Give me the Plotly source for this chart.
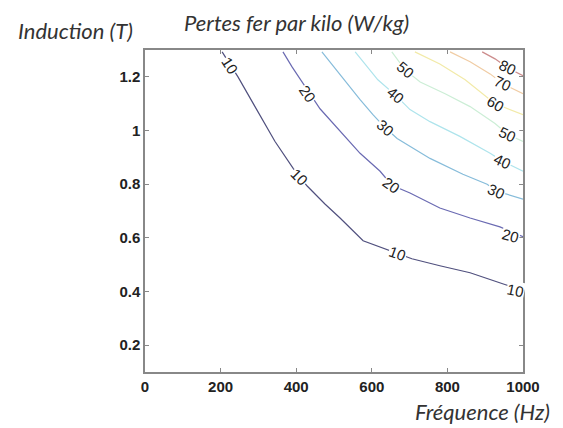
import plotly.graph_objects as go

# Contour lines: frequency (Hz) and induction (T)
f_10 = [204, 246, 291, 344, 392, 429, 476, 516, 577, 669, 706, 780, 860, 952, 1000]
b_10 = [1.293, 1.200, 1.089, 0.959, 0.859, 0.793, 0.726, 0.674, 0.589, 0.541, 0.522, 0.496, 0.470, 0.426, 0.404]
f_20 = [365, 389, 463, 516, 569, 622, 653, 701, 780, 860, 939, 1000]
b_20 = [1.293, 1.237, 1.081, 0.996, 0.915, 0.848, 0.796, 0.767, 0.711, 0.674, 0.641, 0.604]
f_30 = [468, 516, 569, 603, 635, 667, 754, 841, 905, 931, 1000]
b_30 = [1.293, 1.207, 1.115, 1.059, 1.011, 0.970, 0.896, 0.837, 0.800, 0.774, 0.744]
f_40 = [556, 616, 664, 701, 754, 833, 913, 947, 1000]
b_40 = [1.293, 1.189, 1.130, 1.078, 1.033, 0.978, 0.915, 0.885, 0.848]
f_50 = [653, 688, 728, 794, 860, 926, 960, 1000]
b_50 = [1.293, 1.226, 1.181, 1.137, 1.089, 1.026, 0.985, 0.959]
f_60 = [714, 780, 847, 892, 926, 1000]
b_60 = [1.293, 1.248, 1.189, 1.137, 1.100, 1.059]
f_70 = [807, 860, 913, 947, 1000]
b_70 = [1.293, 1.256, 1.211, 1.174, 1.137]
f_80 = [892, 926, 960, 1000]
b_80 = [1.293, 1.267, 1.233, 1.204]

levels = [10, 20, 30, 40, 50, 60, 70, 80]
line_f = [f_10, f_20, f_30, f_40, f_50, f_60, f_70, f_80]
line_b = [b_10, b_20, b_30, b_40, b_50, b_60, b_70, b_80]
line_colors = ["#50507e", "#6a6ab2", "#86bcda", "#aee4ec", "#cceed6", "#f2eaa8", "#f0cca4", "#cc8c8c"]

# Contour labels
label_text = ["10", "10", "10", "10", "20", "20", "20", "30", "30", "40", "40", "50", "50", "60", "70", "80"]
label_f = [225, 410, 669, 981, 429, 653, 966, 635, 931, 664, 947, 688, 960, 926, 947, 960]
label_b = [1.244, 0.826, 0.541, 0.404, 1.137, 0.796, 0.607, 1.011, 0.774, 1.130, 0.885, 1.226, 0.985, 1.100, 1.174, 1.233]
label_angle = [57, 45, 20, 12, 56, 36, 15, 40, 25, 40, 25, 40, 25, 30, 25, 25]

x_ticks = [0, 200, 400, 600, 800, 1000]
y_ticks = [0.2, 0.4, 0.6, 0.8, 1.0, 1.2]
y_tick_text = ["0.2", "0.4", "0.6", "0.8", "1", "1.2"]

fig = go.Figure()
for fx, by, col in zip(line_f, line_b, line_colors):
    fig.add_trace(go.Scatter(x=fx, y=by, mode="lines", line=dict(color=col, width=1.2),
                             hoverinfo="skip", showlegend=False))

for t, fx, by, a in zip(label_text, label_f, label_b, label_angle):
    fig.add_annotation(x=fx, y=by, text=t, textangle=a, showarrow=False,
                       font=dict(family="Liberation Sans, Arial", size=15, color="#222"),
                       bgcolor="white", borderpad=0)

title_font = dict(family="Lato, Open Sans", size=22, color="#333", style="italic")
fig.add_annotation(xref="paper", yref="paper", x=0.402, y=1.084, text="Pertes fer par kilo (W/kg)",
                   xanchor="center", yanchor="middle", showarrow=False, font=title_font)
fig.add_annotation(xref="paper", yref="paper", x=-0.185, y=1.060, text="Induction (T)",
                   xanchor="center", yanchor="middle", showarrow=False, font=title_font)
fig.add_annotation(xref="paper", yref="paper", x=0.894, y=-0.124, text="Fréquence (Hz)",
                   xanchor="center", yanchor="middle", showarrow=False, font=title_font)

axis_common = dict(showline=True, mirror="ticks", linecolor="#888", linewidth=1.5,
                   ticks="inside", ticklen=4, tickcolor="#888", showgrid=False, zeroline=False,
                   tickfont=dict(family="Liberation Sans, Arial", size=15, color="#222", weight="bold"))
fig.update_xaxes(range=[0, 1000], tickvals=x_ticks, **axis_common)
fig.update_yaxes(range=[0.1, 1.3], tickvals=y_ticks, ticktext=y_tick_text, **axis_common)

# page body keeps an 8px margin, so the figure is 8px smaller and margins shifted accordingly
fig.update_layout(width=555, height=420, margin=dict(l=137, r=40, t=42, b=56),
                  plot_bgcolor="white", paper_bgcolor="white")

fig.write_html("out.html")
